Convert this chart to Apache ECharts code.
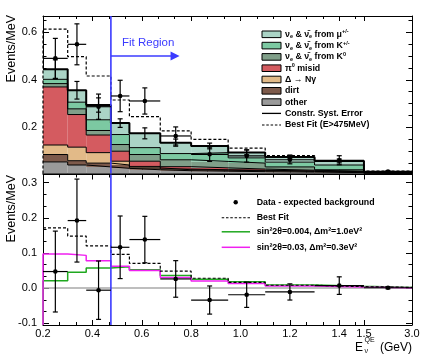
<!DOCTYPE html>
<html><head><meta charset="utf-8">
<script src="https://cdn.jsdelivr.net/npm/echarts@6/dist/echarts.min.js"></script>
<style>html,body{margin:0;padding:0;background:#fff}#c{width:431px;height:354px}</style>
</head><body><div id="c"></div><script>
// ---------------- data (Events/MeV) ----------------
const binEdges = [0.2, 0.3, 0.375, 0.475, 0.55, 0.675, 0.8, 0.95, 1.1, 1.3, 1.5, 3.0];
// background components, bottom of stack to top
const bgOther = [0.055, 0.042, 0.034, 0.028, 0.022, 0.018, 0.016, 0.014, 0.012, 0.010, 0.004];
const bgDirt  = [0.031, 0.018, 0.016, 0.014, 0.008, 0.004, 0.004, 0.004, 0.003, 0.002, 0.001];
const bgDelta = [0.040, 0.057, 0.044, 0.016, 0.006, 0.003, 0.002, 0.002, 0.002, 0.002, 0.001];
const bgPi0   = [0.244, 0.137, 0.074, 0.042, 0.022, 0.010, 0.008, 0.005, 0.003, 0.002, 0.001];
const bgK0    = [0.014, 0.024, 0.019, 0.028, 0.028, 0.029, 0.027, 0.025, 0.014, 0.006, 0.003];
const bgKpm   = [0.018, 0.028, 0.045, 0.042, 0.029, 0.026, 0.037, 0.022, 0.020, 0.020, 0.002];
const bgMu    = [0.042, 0.050, 0.062, 0.048, 0.060, 0.046, 0.028, 0.023, 0.022, 0.017, 0.002];
const mcSystErr = [0.040, 0.037, 0.030, 0.018, 0.023, 0.015, 0.012, 0.010, 0.008, 0.008, 0.002];
const bestFitTotal = [0.613, 0.497, 0.416, 0.315, 0.245, 0.185, 0.150, 0.113, 0.081, 0.059, 0.016];
const dataTop      = [0.490, 0.549, 0.287, 0.332, 0.311, 0.164, 0.087, 0.080, 0.064, 0.062, 0.014];
const dataTopErr   = [0.084, 0.086, 0.053, 0.066, 0.055, 0.038, 0.030, 0.026, 0.017, 0.019, 0.004];
// lower panel: data - expected background
const excess    = [0.047, 0.192, -0.006, 0.116, 0.138, 0.026, -0.034, -0.019, -0.011, 0.007, 0.001];
const excessErr = [0.115, 0.118, 0.083, 0.089, 0.066, 0.052, 0.040, 0.036, 0.023, 0.025, 0.003];
const bestFitExcess = [0.171, 0.148, 0.120, 0.096, 0.070, 0.048, 0.028, 0.016, 0.008, 0.004, 0.002];
const osc004_1p0 = [0.021, 0.045, 0.057, 0.061, 0.052, 0.036, 0.025, 0.018, 0.009, 0.005, 0.002];
const osc03_0p3  = [0.097, 0.093, 0.078, 0.062, 0.050, 0.030, 0.020, 0.013, 0.006, 0.003, 0.001];
const xTickLabels = [0.2, 0.4, 0.6, 0.8, 1.0, 1.2, 1.4, 1.5, 3.0];
const yTopLabels = [0.2, 0.4, 0.6];
const yBotLabels = [-0.1, 0.0, 0.1, 0.2, 0.3];
const FIT_MIN = 0.475;

// ---------------- axis scale (compressed 1.5-3.0 GeV segment) ----------------
const E_BREAK = 1.5, HIGH_SCALE = 32 / 246.6;
const tx = e => e <= E_BREAK ? e : E_BREAK + (e - E_BREAK) * HIGH_SCALE;
const itx = v => v <= E_BREAK + 1e-9 ? v : E_BREAK + (v - E_BREAK) / HIGH_SCALE;
const X_MIN = tx(binEdges[0]), X_MAX = tx(binEdges[binEdges.length - 1]);
const TOP_MIN = 0.0063, TOP_MAX = 0.668, BOT_MIN = -0.105, BOT_MAX = 0.323;

const FF = '"Liberation Sans", Arial, Helvetica, sans-serif';
const colors = {mu:'#abd4c6', kpm:'#7cc9a2', k0:'#809f89', pi0:'#d45b60', delta:'#e2ba88', dirt:'#7d5a4b', other:'#9a9a9a'};

function stepData(vals, startY) {
  const pts = vals.map((v, i) => [tx(binEdges[i]), v]);
  pts.push([tx(binEdges[binEdges.length - 1]), vals[vals.length - 1]]);
  if (startY !== undefined) pts.unshift([tx(binEdges[0]), startY]);
  return pts;
}
function errData(vals, errs) {
  return vals.map((v, i) => [tx(binEdges[i]), tx(binEdges[i + 1]), tx(0.5 * (binEdges[i] + binEdges[i + 1])), v, errs[i]]);
}
function frameAxes(dim, gridIndex, min, max, majors, minors, majLen, minLen, label) {
  const sides = dim === 'x' ? ['bottom', 'top'] : ['left', 'right'];
  const list = [];
  sides.forEach((pos, si) => {
    [[majors, majLen], [minors, minLen]].forEach(([vals, len], ti) => {
      list.push({
        type: 'value', gridIndex, position: pos, min, max,
        axisLine: {show: ti === 0, onZero: false, lineStyle: {color: '#000', width: 1}},
        axisTick: {show: true, inside: true, length: len, customValues: vals, lineStyle: {color: '#000', width: 1}},
        axisLabel: (label && si === 0 && ti === 0) ? Object.assign({show: true, customValues: majors, interval: 0}, label) : {show: false},
        splitLine: {show: false}
      });
    });
  });
  return list;
}
const xMajors = xTickLabels.map(tx);
const xMinors = [];
for (let e = 0.2; e < E_BREAK + 1e-6; e += 0.2 / 3) xMinors.push(tx(e));
const yTopMinors = [];
for (let k = 1; k * 0.05 < TOP_MAX; k++) yTopMinors.push(k * 0.05);
const yBotMinors = [];
for (let k = 0; -0.1 + k * 0.1 / 3 < BOT_MAX; k++) yBotMinors.push(-0.1 + k * 0.1 / 3);

const lblStyle = {fontSize: 11, fontFamily: FF, color: '#000'};
const xAxes = [].concat(
  frameAxes('x', 0, X_MIN, X_MAX, xMajors, xMinors, 5, 3, null),
  frameAxes('x', 1, X_MIN, X_MAX, xMajors, xMinors, 5, 3,
    Object.assign({margin: 3, formatter: v => itx(v).toFixed(1)}, lblStyle))
);
const yAxes = [].concat(
  frameAxes('y', 0, TOP_MIN, TOP_MAX, yTopLabels, yTopMinors, 6, 3.5,
    Object.assign({margin: 6, formatter: v => v.toFixed(1)}, lblStyle)),
  frameAxes('y', 1, BOT_MIN, BOT_MAX, yBotLabels, yBotMinors, 6, 3.5,
    Object.assign({margin: 6, formatter: v => v.toFixed(1)}, lblStyle))
);

function errRender(opts) {
  return function (params, api) {
    const lo = api.value(0), hi = api.value(1), xc = api.value(2), y = api.value(3), e = api.value(4);
    const pc = api.coord([xc, y]), pt = api.coord([xc, y + e]), pb = api.coord([xc, y - e]);
    const st = {stroke: '#000', lineWidth: 1.2};
    const ch = [];
    if (opts.hbar) {
      const pl = api.coord([lo, y]), pr = api.coord([hi, y]);
      ch.push({type: 'line', shape: {x1: pl[0], y1: pc[1], x2: pr[0], y2: pc[1]}, style: st});
    }
    ch.push({type: 'line', shape: {x1: pc[0], y1: pt[1], x2: pc[0], y2: pb[1]}, style: st});
    ch.push({type: 'line', shape: {x1: pc[0] - 2.5, y1: pt[1], x2: pc[0] + 2.5, y2: pt[1]}, style: st});
    ch.push({type: 'line', shape: {x1: pc[0] - 2.5, y1: pb[1], x2: pc[0] + 2.5, y2: pb[1]}, style: st});
    if (opts.marker) ch.push({type: 'circle', shape: {cx: pc[0], cy: pc[1], r: 2.3}, style: {fill: '#000'}});
    return {type: 'group', children: ch};
  };
}

const stackDefs = [
  ['other', bgOther], ['dirt', bgDirt], ['delta', bgDelta], ['pi0', bgPi0],
  ['k0', bgK0], ['kpm', bgKpm], ['mu', bgMu]
];
// cumulative stack (computed from the component arrays)
const cumLevels = [];
let running = bgOther.map(() => 0);
const fillItems = [];
stackDefs.forEach(([name, vals], ci) => {
  const top = running.map((r, i) => r + vals[i]);
  vals.forEach((v, i) => fillItems.push([tx(binEdges[i]), tx(binEdges[i + 1]), running[i], top[i], ci]));
  cumLevels.push(top);
  running = top;
});
const bgTotal = running;
const colorList = stackDefs.map(d => colors[d[0]]);

const series = [];
series.push({
  type: 'custom', xAxisIndex: 0, yAxisIndex: 0, z: 2, data: fillItems, encode: {x: [0, 1], y: [2, 3]},
  renderItem: (params, api) => {
    const lo = api.value(0), hi = api.value(1);
    const b = Math.max(api.value(2), TOP_MIN), t = api.value(3);
    const p1 = api.coord([lo, t]), p2 = api.coord([hi, b]);
    return {type: 'rect', shape: {x: p1[0], y: p1[1], width: p2[0] - p1[0], height: p2[1] - p1[1]},
      style: {fill: colorList[api.value(4)]}};
  }
});
cumLevels.forEach((lvl, li) => {
  series.push({type: 'line', xAxisIndex: 0, yAxisIndex: 0, step: 'end', symbol: 'none', z: 3,
    data: stepData(lvl), lineStyle: {color: '#000', width: li === cumLevels.length - 1 ? 2 : 1}});
});
series.push({type: 'line', xAxisIndex: 0, yAxisIndex: 0, step: 'end', symbol: 'none', z: 4,
  data: stepData(bestFitTotal, TOP_MIN), lineStyle: {color: '#000', width: 1.2, type: [3, 2]}});
series.push({type: 'custom', xAxisIndex: 0, yAxisIndex: 0, z: 5, renderItem: errRender({hbar: false, marker: false}),
  data: errData(bgTotal, mcSystErr), encode: {x: [0, 1, 2], y: 3}});
// fit-region boundary + arrow
series.push({type: 'line', xAxisIndex: 0, yAxisIndex: 0, symbol: 'none', z: 6,
  data: [[tx(FIT_MIN), TOP_MIN], [tx(FIT_MIN), TOP_MAX]], lineStyle: {color: '#3b3bff', width: 1.6},
  markLine: {silent: true, symbol: ['none', 'triangle'], symbolSize: 9, animation: false,
    lineStyle: {color: '#3b3bff', width: 1.5, type: 'solid'}, label: {show: false},
    data: [[{coord: [tx(FIT_MIN), 0.5]}, {coord: [tx(0.735), 0.5]}]]}});
series.push({type: 'custom', xAxisIndex: 0, yAxisIndex: 0, z: 7, renderItem: errRender({hbar: true, marker: true}),
  data: errData(dataTop, dataTopErr), encode: {x: [0, 1, 2], y: 3}});

// lower panel
series.push({type: 'line', xAxisIndex: 4, yAxisIndex: 4, symbol: 'none', z: 2,
  data: [[X_MIN, 0], [X_MAX, 0]], lineStyle: {color: '#a8a8a8', width: 1.5}});
series.push({type: 'line', xAxisIndex: 4, yAxisIndex: 4, step: 'end', symbol: 'none', z: 3,
  data: stepData(osc004_1p0, BOT_MIN), lineStyle: {color: '#1fa81f', width: 1.5}});
series.push({type: 'line', xAxisIndex: 4, yAxisIndex: 4, step: 'end', symbol: 'none', z: 3,
  data: stepData(osc03_0p3, BOT_MIN), lineStyle: {color: '#f020f0', width: 1.5}});
series.push({type: 'line', xAxisIndex: 4, yAxisIndex: 4, step: 'end', symbol: 'none', z: 4,
  data: stepData(bestFitExcess), lineStyle: {color: '#000', width: 1.2, type: [3, 2]}});
series.push({type: 'line', xAxisIndex: 4, yAxisIndex: 4, symbol: 'none', z: 5,
  data: [[tx(FIT_MIN), BOT_MIN], [tx(FIT_MIN), BOT_MAX]], lineStyle: {color: '#3b3bff', width: 1.6}});
series.push({type: 'custom', xAxisIndex: 4, yAxisIndex: 4, z: 6, renderItem: errRender({hbar: true, marker: true}),
  data: errData(excess, excessErr), encode: {x: [0, 1, 2], y: 3}});

// ---------------- legends / texts ----------------
const LF = 8.8;
const rich = {
  b: {fontSize: LF, fontWeight: 'bold', fontFamily: FF, fill: '#000', lineHeight: 11, verticalAlign: 'middle'},
  s: {fontSize: 5.5, fontWeight: 'bold', fontFamily: FF, fill: '#000', lineHeight: 11, verticalAlign: 'bottom'},
  p: {fontSize: 5.5, fontWeight: 'bold', fontFamily: FF, fill: '#000', lineHeight: 11, verticalAlign: 'top'}
};
const topLegend = [
  [colors.mu, '{b|ν}{s|e}{b| & ν̄}{s|e}{b| from μ}{p|+/-}'],
  [colors.kpm, '{b|ν}{s|e}{b| & ν̄}{s|e}{b| from K}{p|+/-}'],
  [colors.k0, '{b|ν}{s|e}{b| & ν̄}{s|e}{b| from K}{p|0}'],
  [colors.pi0, '{b|π}{p|0}{b| misid}'],
  [colors.delta, '{b|Δ → Nγ}'],
  [colors.dirt, '{b|dirt}'],
  [colors.other, '{b|other}']
];
const graphics = [];
topLegend.forEach(([c, t], i) => {
  const y = 34.3 + i * 11.3;
  graphics.push({type: 'rect', shape: {x: 262, y: y - 3.3, width: 19, height: 6.6}, style: {fill: c, stroke: '#000', lineWidth: 1}});
  graphics.push({type: 'text', x: 285, y, style: {text: t, rich, verticalAlign: 'middle', align: 'left'}});
});
graphics.push({type: 'line', shape: {x1: 262, y1: 113.4, x2: 281, y2: 113.4}, style: {stroke: '#000', lineWidth: 1.3}});
graphics.push({type: 'text', x: 285, y: 113.4, style: {text: '{b|Constr. Syst. Error}', rich, verticalAlign: 'middle'}});
graphics.push({type: 'line', shape: {x1: 262, y1: 125, x2: 281, y2: 125}, style: {stroke: '#000', lineWidth: 1.1, lineDash: [2.5, 1.8]}});
graphics.push({type: 'text', x: 285, y: 125, style: {text: '{b|Best Fit (E>475MeV)}', rich, verticalAlign: 'middle'}});

graphics.push({type: 'circle', shape: {cx: 235.7, cy: 202.3, r: 2.2}, style: {fill: '#000'}});
graphics.push({type: 'text', x: 256.7, y: 202.3, style: {text: '{b|Data - expected background}', rich, verticalAlign: 'middle'}});
graphics.push({type: 'line', shape: {x1: 221.7, y1: 217.7, x2: 250, y2: 217.7}, style: {stroke: '#000', lineWidth: 1.1, lineDash: [2.5, 1.8]}});
graphics.push({type: 'text', x: 256.7, y: 217.7, style: {text: '{b|Best Fit}', rich, verticalAlign: 'middle'}});
graphics.push({type: 'line', shape: {x1: 221.7, y1: 231.8, x2: 250, y2: 231.8}, style: {stroke: '#1fa81f', lineWidth: 1.5}});
graphics.push({type: 'text', x: 256.7, y: 231.8, style: {text: '{b|sin²2θ=0.004, Δm²=1.0eV²}', rich, verticalAlign: 'middle'}});
graphics.push({type: 'line', shape: {x1: 221.7, y1: 247.3, x2: 250, y2: 247.3}, style: {stroke: '#f020f0', lineWidth: 1.5}});
graphics.push({type: 'text', x: 256.7, y: 247.3, style: {text: '{b|sin²2θ=0.03, Δm²=0.3eV²}', rich, verticalAlign: 'middle'}});

graphics.push({type: 'text', x: 122, y: 42.7, style: {text: 'Fit Region', fontSize: 11.5, fontFamily: FF, fill: '#3b3bff', verticalAlign: 'middle'}});
// axis titles
graphics.push({type: 'text', x: 11.5, y: 15, rotation: Math.PI / 2,
  style: {text: 'Events/MeV', fontSize: 12.5, fontFamily: FF, fill: '#000', align: 'right', verticalAlign: 'middle'}});
graphics.push({type: 'text', x: 11.5, y: 175, rotation: Math.PI / 2,
  style: {text: 'Events/MeV', fontSize: 12.5, fontFamily: FF, fill: '#000', align: 'right', verticalAlign: 'middle'}});
graphics.push({type: 'text', x: 355, y: 347.5, style: {text: 'E', fontSize: 12, fontFamily: FF, fill: '#000', verticalAlign: 'middle'}});
graphics.push({type: 'text', x: 364.5, y: 340.5, style: {text: 'QE', fontSize: 7, fontFamily: FF, fill: '#000', verticalAlign: 'middle'}});
graphics.push({type: 'text', x: 364.5, y: 351, style: {text: 'ν', fontSize: 7, fontFamily: FF, fill: '#000', verticalAlign: 'middle'}});
graphics.push({type: 'text', x: 412, y: 347.5, style: {text: '(GeV)', fontSize: 12, fontFamily: FF, fill: '#000', align: 'right', verticalAlign: 'middle'}});

const chart = echarts.init(document.getElementById('c'));
chart.setOption({
  animation: false,
  backgroundColor: '#fff',
  grid: [
    {left: 43, right: 19, top: 16, height: 157.5},
    {left: 43, right: 19, top: 174.5, height: 150.5}
  ],
  xAxis: xAxes,
  yAxis: yAxes,
  series,
  graphic: graphics
});
</script></body></html>
